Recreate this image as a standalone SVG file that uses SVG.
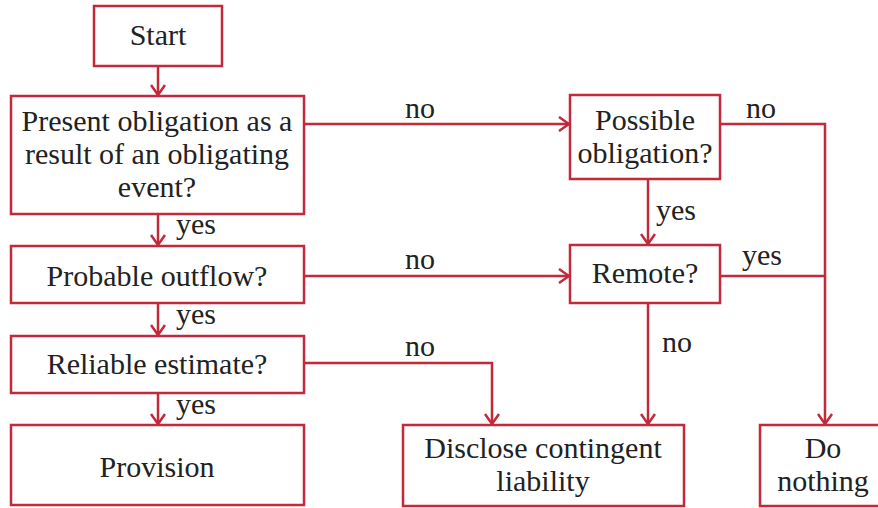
<svg xmlns="http://www.w3.org/2000/svg" width="878" height="508" viewBox="0 0 878 508">
<defs>
<style>
.box{fill:#fff;stroke:#c3283b;stroke-width:2.5}
.ln{fill:none;stroke:#c3283b;stroke-width:2.5}
.t{font-family:"Liberation Serif","DejaVu Serif",serif;font-size:30px;fill:#222;text-anchor:middle}
.l{font-family:"Liberation Serif","DejaVu Serif",serif;font-size:30px;fill:#222}
</style>
<marker id="ah" viewBox="0 0 12 16" refX="11" refY="8" markerWidth="12" markerHeight="16" markerUnits="userSpaceOnUse" orient="auto">
<path d="M1,1 L11,8 L1,15" fill="none" stroke="#c3283b" stroke-width="2.5"/>
</marker>
</defs>
<rect width="878" height="508" fill="#fff"/>
<g id="connectors">
<path class="ln" d="M158,66 V95" marker-end="url(#ah)"/>
<path class="ln" d="M158,214 V245" marker-end="url(#ah)"/>
<path class="ln" d="M158,304 V335" marker-end="url(#ah)"/>
<path class="ln" d="M158,393 V424" marker-end="url(#ah)"/>
<path class="ln" d="M304,124 H569" marker-end="url(#ah)"/>
<path class="ln" d="M304,276 H569" marker-end="url(#ah)"/>
<path class="ln" d="M304,363 H492 V424" marker-end="url(#ah)"/>
<path class="ln" d="M648,179 V244" marker-end="url(#ah)"/>
<path class="ln" d="M648,303 V424" marker-end="url(#ah)"/>
<path class="ln" d="M720,124 H825 V424" marker-end="url(#ah)"/>
<path class="ln" d="M720,276 H825"/>
<text class="l" x="176" y="234">yes</text>
<text class="l" x="176" y="324">yes</text>
<text class="l" x="176" y="414">yes</text>
<text class="l" x="405" y="118">no</text>
<text class="l" x="405" y="269">no</text>
<text class="l" x="405" y="356">no</text>
<text class="l" x="656" y="220">yes</text>
<text class="l" x="662" y="352">no</text>
<text class="l" x="746" y="118">no</text>
<text class="l" x="742" y="265">yes</text>
</g>
<g id="start"><rect class="box" x="94" y="6" width="128" height="60"/><text class="t" x="158" y="45">Start</text></g>
<g id="present"><rect class="box" x="11" y="96" width="293" height="118"/>
<text class="t" x="157" y="131">Present obligation as a</text>
<text class="t" x="157" y="164">result of an obligating</text>
<text class="t" x="157" y="197">event?</text></g>
<g id="probable"><rect class="box" x="11" y="246" width="293" height="57"/><text class="t" x="157" y="286">Probable outflow?</text></g>
<g id="reliable"><rect class="box" x="11" y="336" width="293" height="57"/><text class="t" x="157" y="374">Reliable estimate?</text></g>
<g id="provision"><rect class="box" x="11" y="425" width="293" height="80"/><text class="t" x="157" y="477">Provision</text></g>
<g id="possible"><rect class="box" x="570" y="95" width="150" height="84"/>
<text class="t" x="645" y="130">Possible</text>
<text class="t" x="645" y="163">obligation?</text></g>
<g id="remote"><rect class="box" x="570" y="245" width="150" height="58"/><text class="t" x="645" y="283">Remote?</text></g>
<g id="disclose"><rect class="box" x="403" y="425" width="281" height="81"/>
<text class="t" x="543" y="458">Disclose contingent</text>
<text class="t" x="543" y="491">liability</text></g>
<g id="donothing"><rect class="box" x="760" y="425" width="128" height="81"/>
<text class="t" x="823" y="458">Do</text>
<text class="t" x="823" y="491">nothing</text></g>
</svg>
